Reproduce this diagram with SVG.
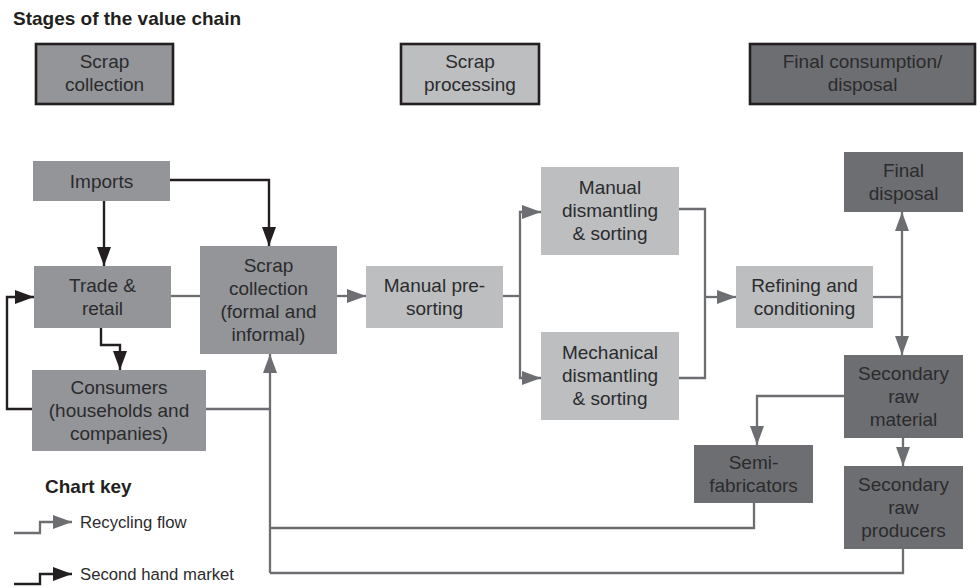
<svg xmlns="http://www.w3.org/2000/svg" width="977" height="588" viewBox="0 0 977 588">
<style>
text{font-family:"Liberation Sans",Arial,sans-serif;font-size:19px;fill:#2b2b2d;text-anchor:middle}
.b{font-weight:bold;text-anchor:start;fill:#231f20}
.k{font-size:16.7px;text-anchor:start}
.hd{stroke:#231f20;stroke-width:2.6}
.c1{fill:#939598}
.c2{fill:#bcbec0}
.c3{fill:#6d6e71}
.g{fill:none;stroke:#6d6e71;stroke-width:2.3}
.bk{fill:none;stroke:#231f20;stroke-width:2.4}
.ga{marker-end:url(#ag)}
.ba{marker-end:url(#ab)}
</style>
<defs>
<marker id="ag" markerUnits="userSpaceOnUse" markerWidth="20" markerHeight="14" refX="19" refY="7" orient="auto"><path d="M0,0 L19,7 L0,14 z" fill="#6d6e71"/></marker>
<marker id="ab" markerUnits="userSpaceOnUse" markerWidth="20" markerHeight="14" refX="19" refY="7" orient="auto"><path d="M0,0 L19,7 L0,14 z" fill="#231f20"/></marker>
</defs>
<rect width="977" height="588" fill="#fff"/>
<text class="b" x="13" y="25">Stages of the value chain</text>
<g id="stage-collection"><rect class="hd c1" x="36" y="44" width="137" height="60"/><text x="104.5" y="68">Scrap</text><text x="104.5" y="91">collection</text></g>
<g id="stage-processing"><rect class="hd c2" x="401" y="44" width="138" height="60"/><text x="470" y="68">Scrap</text><text x="470" y="91">processing</text></g>
<g id="stage-final"><rect class="hd c3" x="750" y="44" width="225" height="60"/><text x="862.5" y="68">Final consumption/</text><text x="862.5" y="91">disposal</text></g>
<g id="connectors">
<path class="bk ba" d="M104,201 V266"/>
<path class="bk ba" d="M170,180 H269 V246"/>
<path class="bk ba" d="M101,328 V345 H120 V370"/>
<path class="bk ba" d="M32,409 H7 V297 H34"/>
<path class="g" d="M171,296 H200"/>
<path class="g" d="M206,409 H270"/>
<path class="g ga" d="M270,573 V354"/>
<path class="g" d="M754,503 V528 H270"/>
<path class="g" d="M903,549 V573 H270"/>
<path class="g ga" d="M337,296 H366"/>
<path class="g" d="M503,296 H520"/>
<path class="g ga" d="M520,296 V212 H541"/>
<path class="g ga" d="M520,296 V378 H541"/>
<path class="g" d="M679,209 H705 V378 H679"/>
<path class="g ga" d="M705,297 H736"/>
<path class="g" d="M873,297 H902"/>
<path class="g ga" d="M902,297 V212"/>
<path class="g ga" d="M902,297 V355"/>
<path class="g ga" d="M844,396 H757 V445"/>
<path class="g ga" d="M903,438 V466"/>
<path class="g ga" d="M14,533 H40 V522 H72"/>
<path class="bk ba" d="M14,584 H40 V574 H72"/>
</g>
<g id="imports"><rect class="c1" x="33" y="161" width="137" height="40"/><text x="101.5" y="188">Imports</text></g>
<g id="trade"><rect class="c1" x="34" y="266" width="137" height="62"/><text x="102.5" y="292">Trade &amp;</text><text x="102.5" y="315">retail</text></g>
<g id="scrap-collection"><rect class="c1" x="200" y="246" width="137" height="108"/><text x="268.5" y="272">Scrap</text><text x="268.5" y="295">collection</text><text x="268.5" y="318">(formal and</text><text x="268.5" y="341">informal)</text></g>
<g id="consumers"><rect class="c1" x="32" y="370" width="174" height="81"/><text x="119" y="394">Consumers</text><text x="119" y="417">(households and</text><text x="119" y="440">companies)</text></g>
<g id="presorting"><rect class="c2" x="366" y="266" width="137" height="62"/><text x="434.5" y="292">Manual pre-</text><text x="434.5" y="315">sorting</text></g>
<g id="manual-dismantling"><rect class="c2" x="541" y="167" width="138" height="88"/><text x="610" y="194">Manual</text><text x="610" y="217">dismantling</text><text x="610" y="240">&amp; sorting</text></g>
<g id="mechanical-dismantling"><rect class="c2" x="541" y="332" width="138" height="88"/><text x="610" y="359">Mechanical</text><text x="610" y="382">dismantling</text><text x="610" y="405">&amp; sorting</text></g>
<g id="refining"><rect class="c2" x="736" y="266" width="137" height="62"/><text x="804.5" y="292">Refining and</text><text x="804.5" y="315">conditioning</text></g>
<g id="final-disposal"><rect class="c3" x="844" y="152" width="119" height="60"/><text x="903.5" y="177">Final</text><text x="903.5" y="200">disposal</text></g>
<g id="secondary-raw-material"><rect class="c3" x="844" y="355" width="119" height="83"/><text x="903.5" y="380">Secondary</text><text x="903.5" y="403">raw</text><text x="903.5" y="426">material</text></g>
<g id="semi-fabricators"><rect class="c3" x="694" y="445" width="119" height="58"/><text x="753.5" y="469">Semi-</text><text x="753.5" y="492">fabricators</text></g>
<g id="secondary-raw-producers"><rect class="c3" x="844" y="466" width="119" height="83"/><text x="903.5" y="491">Secondary</text><text x="903.5" y="514">raw</text><text x="903.5" y="537">producers</text></g>
<g id="legend">
<text class="b" x="45" y="493">Chart key</text>
<text class="k" x="80" y="528">Recycling flow</text>
<text class="k" x="80" y="580">Second hand market</text>
</g>
</svg>
